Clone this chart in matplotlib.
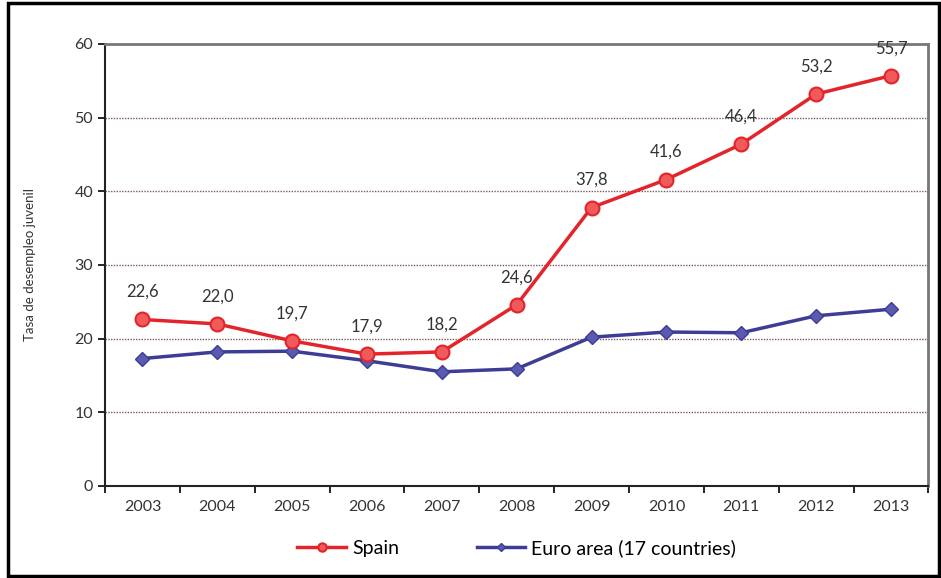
import numpy as np
import matplotlib
matplotlib.use('Agg')
import matplotlib.pyplot as plt
from matplotlib.patches import Rectangle

# Data
years = ['2003', '2004', '2005', '2006', '2007', '2008', '2009', '2010', '2011', '2012', '2013']
spain = [22.6, 22.0, 19.7, 17.9, 18.2, 24.6, 37.8, 41.6, 46.4, 53.2, 55.7]
euro = [17.3, 18.2, 18.3, 17.0, 15.5, 15.9, 20.2, 20.9, 20.8, 23.1, 24.0]
spain_labels = ['22,6', '22,0', '19,7', '17,9', '18,2', '24,6', '37,8', '41,6', '46,4', '53,2', '55,7']

plt.rcParams['font.family'] = ['Lato', 'DejaVu Sans']

fig = plt.figure(figsize=(9.41, 5.78), dpi=100)
ax = fig.add_axes([0.1116, 0.1592, 0.875, 0.7647])

x = np.arange(len(years))
ax.plot(x, spain, color='#e3242b', lw=2.5, marker='o', ms=10,
        markerfacecolor='#f05a5a', markeredgecolor='#e3242b', markeredgewidth=1.5,
        label='Spain', zorder=4)
ax.plot(x, euro, color='#3d3d96', lw=2.5, marker='D', ms=7,
        markerfacecolor='#5a5ab0', markeredgecolor='#3d3d96',
        label='Euro area (17 countries)', zorder=3)

for xi, v, s in zip(x, spain, spain_labels):
    ax.annotate(s, (xi, v), textcoords='offset points', xytext=(0, 14),
                ha='center', va='bottom', fontsize=12, color='#333333')

ax.set_xlim(-0.5, len(years) - 0.5)
ax.set_ylim(0, 60)
ax.set_yticks(range(0, 61, 10))
ax.set_xticks(x)
ax.set_xticklabels(years, fontsize=11.5, color='#333333')
ax.set_xticks(np.arange(-0.5, len(years), 1), minor=True)
ax.tick_params(axis='x', which='major', length=0, pad=10)
ax.tick_params(axis='x', which='minor', length=5, width=1.2, direction='out')
ax.tick_params(axis='y', labelsize=11.5, labelcolor='#333333', length=5, width=1.2)

for yv in range(10, 60, 10):
    ax.axhline(yv, color='#7a5a5a', lw=1.0, ls=(0, (1, 1)), zorder=1)

ax.spines['left'].set_color('#222222')
ax.spines['left'].set_linewidth(1.5)
ax.spines['bottom'].set_color('#222222')
ax.spines['bottom'].set_linewidth(1.5)
ax.spines['top'].set_color('#777777')
ax.spines['top'].set_linewidth(2)
ax.spines['right'].set_color('#777777')
ax.spines['right'].set_linewidth(2)

ax.set_ylabel('Tasa de desempleo juvenil', fontsize=9.5, color='#333333', labelpad=28)

ax.legend(loc='upper center', bbox_to_anchor=(0.5, -0.08), ncol=2, frameon=False,
          fontsize=14, handlelength=2.5, columnspacing=4, handletextpad=0.3,
          markerscale=0.6)

# black frame around the figure
fig.patches.append(Rectangle((0.008, 0.003), 0.99, 0.992, transform=fig.transFigure,
                             fill=False, edgecolor='black', lw=2.5))

fig.savefig('out.png', dpi=100)
